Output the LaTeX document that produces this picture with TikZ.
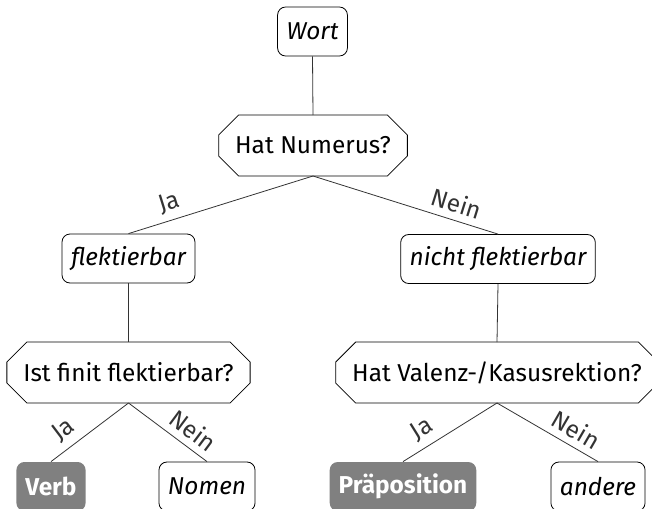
\documentclass[tikz,border=0pt]{standalone}
\usepackage{fontspec}
\setmainfont{Fira Sans}
\usepackage{tikz}

% Achteck um einen Fragenknoten
\newcommand{\achteck}[1]{%
  \draw ([xshift=10pt]#1.north west)--([xshift=-10pt]#1.north east)
    --([yshift=-10pt]#1.north east)--([yshift=10pt]#1.south east)
    --([xshift=-10pt]#1.south east)--([xshift=10pt]#1.south west)
    --([yshift=10pt]#1.south west)--([yshift=-10pt]#1.north west)--cycle;}

\begin{document}
\begin{tikzpicture}[x=0.5pt,y=-0.5pt,
  every node/.style={font=\fontsize{12.2}{14}\selectfont},
  klasse/.style={draw,rounded corners=4pt,minimum height=24.5pt,inner xsep=4.5pt,font=\fontsize{12.2}{14}\selectfont\itshape},
  frage/.style={minimum height=30.5pt,inner xsep=8.25pt,outer sep=0pt},
  ergebnis/.style={fill=gray,text=white,rounded corners=4pt,minimum height=24.5pt,inner xsep=4.5pt,font=\fontsize{12.2}{14}\selectfont\bfseries},
  kante/.style={black!80}]

\useasboundingbox (0,0) rectangle (652,508);

\node[klasse] (wort) at (312.5,31.5) {Wort};
\node[frage] (numerus) at (313,145.5) {Hat Numerus?};
\node[klasse] (flekt) at (128.5,258.5) {flektierbar};
\node[klasse] (nflekt) at (498,259) {nicht flektierbar};
\node[frage] (finit) at (128.5,372.5) {Ist finit flektierbar?};
\node[frage] (valenz) at (497,372.5) {Hat Valenz-/Kasusrektion?};
\node[ergebnis] (verb) at (51,486.5) {Verb};
\node[klasse] (nomen) at (207,486.5) {Nomen};
\node[ergebnis] (praep) at (403,486.5) {Präposition};
\node[klasse] (andere) at (598,486.5) {andere};

\achteck{numerus}
\achteck{finit}
\achteck{valenz}

\draw[kante] (wort.south)--(numerus.north);
\draw[kante] (numerus.south)--node[pos=.75,above,sloped]{Ja}(flekt.north);
\draw[kante] (numerus.south)--node[pos=.75,above,sloped]{Nein}(nflekt.north);
\draw[kante] (flekt.south)--(finit.north);
\draw[kante] (nflekt.south)--(valenz.north);
\draw[kante] (finit.south)--node[pos=.7,above,sloped]{Ja}(verb.north);
\draw[kante] (finit.south)--node[pos=.7,above,sloped]{Nein}(nomen.north);
\draw[kante] (valenz.south)--node[pos=.7,above,sloped]{Ja}(praep.north);
\draw[kante] (valenz.south)--node[pos=.7,above,sloped]{Nein}(andere.north);
\end{tikzpicture}
\end{document}
